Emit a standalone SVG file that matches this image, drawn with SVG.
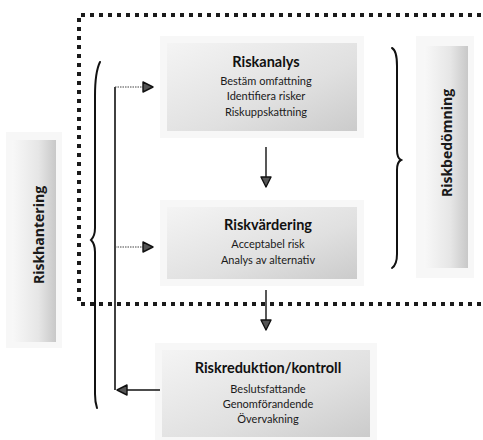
<svg xmlns="http://www.w3.org/2000/svg" width="483" height="440" viewBox="0 0 483 440">
  <defs>
    <linearGradient id="boxFill" x1="0" y1="0" x2="1" y2="1">
      <stop offset="0" stop-color="#f4f4f4"/>
      <stop offset="0.6" stop-color="#e0e0e0"/>
      <stop offset="1" stop-color="#cbcbcb"/>
    </linearGradient>
    <linearGradient id="sideFill" x1="0" y1="0" x2="1" y2="0">
      <stop offset="0" stop-color="#f8f8f8"/>
      <stop offset="0.6" stop-color="#e6e6e6"/>
      <stop offset="1" stop-color="#c8c8c8"/>
    </linearGradient>
    <marker id="tri" viewBox="0 0 12 12" refX="11" refY="6" markerWidth="12" markerHeight="12" markerUnits="userSpaceOnUse" orient="auto">
      <path d="M1,1 L11,6 L1,11 z" fill="#555" stroke="#111" stroke-width="1.4" stroke-linejoin="round"/>
    </marker>
    <style>
      .halo { fill: #f7f7f7; }
      .box { fill: url(#boxFill); }
      .side { fill: url(#sideFill); }
      .title { font-family: Lato, "Liberation Sans", sans-serif; font-weight: 700; font-size: 14.5px; fill: #111; text-anchor: middle; }
      .item { font-family: Lato, "Liberation Sans", sans-serif; font-size: 11px; fill: #1a1a1a; text-anchor: middle; }
      .vlabel { font-family: "Open Sans", "Liberation Sans", sans-serif; font-weight: 700; font-size: 14px; fill: #1a1a1a; text-anchor: middle; }
      .frame { fill: none; stroke: #1a1a1a; stroke-width: 4; stroke-dasharray: 4 5; }
      .brace { fill: none; stroke: #111; stroke-width: 2; stroke-linecap: round; }
      .trunk { fill: none; stroke: #111; stroke-width: 1.6; }
      .feed { fill: none; stroke: #444; stroke-width: 1; stroke-dasharray: 1.5 1; }
      .flow { fill: none; stroke: #111; stroke-width: 1.4; }
    </style>
  </defs>

  <rect width="483" height="440" fill="#ffffff"/>

  <!-- dotted frame around the assessment part -->
  <path class="frame" d="M490,15 H79 V304 H490"/>

  <!-- side labels -->
  <g id="riskhantering">
    <rect class="halo" x="6" y="132" width="56" height="216"/>
    <rect class="side" x="12" y="140" width="44" height="202"/>
    <text class="vlabel" transform="translate(44,235) rotate(-90)">Riskhantering</text>
  </g>
  <g id="riskbedomning">
    <rect class="halo" x="416" y="36" width="58" height="242"/>
    <rect class="side" x="424" y="46" width="44" height="222"/>
    <text class="vlabel" transform="translate(452,143) rotate(-90)">Riskbedömning</text>
  </g>

  <!-- braces -->
  <path class="brace" d="M392,48 C396,50 397,56 397,66 L397,150 C397,156 399,159 401,160 C399,161 397,164 397,170 L397,254 C397,262 395,266 392,268"/>
  <path class="brace" d="M100,62 C96,70 95,80 95,96 L95,228 C95,234 93,238 91,240 C93,242 95,246 95,252 L95,394 C95,400 96,405 97,408"/>

  <!-- process boxes -->
  <g id="riskanalys">
    <rect class="halo" x="160" y="36" width="204" height="102"/>
    <rect class="box" x="167" y="43" width="190" height="88"/>
    <text class="title" x="266" y="67">Riskanalys</text>
    <text class="item" x="266" y="85">Bestäm omfattning</text>
    <text class="item" x="266" y="100">Identifiera risker</text>
    <text class="item" x="266" y="116">Riskuppskattning</text>
  </g>
  <g id="riskvardering">
    <rect class="halo" x="160" y="200" width="204" height="86"/>
    <rect class="box" x="167" y="207" width="190" height="72"/>
    <text class="title" x="268" y="230">Riskvärdering</text>
    <text class="item" x="268" y="248">Acceptabel risk</text>
    <text class="item" x="268" y="264">Analys av alternativ</text>
  </g>
  <g id="riskreduktion">
    <rect class="halo" x="155" y="343" width="222" height="97"/>
    <rect class="box" x="162" y="350" width="208" height="87"/>
    <text class="title" x="268" y="373">Riskreduktion/kontroll</text>
    <text class="item" x="268" y="393">Beslutsfattande</text>
    <text class="item" x="268" y="408">Genomförandende</text>
    <text class="item" x="268" y="423">Övervakning</text>
  </g>

  <!-- connectors -->
  <g id="connectors">
    <path class="trunk" d="M115,87 V390"/>
    <path class="feed" d="M115,87 H153" marker-end="url(#tri)"/>
    <path class="feed" d="M115,247 H153" marker-end="url(#tri)"/>
    <path class="trunk" d="M160,390 H117" marker-end="url(#tri)"/>
    <path class="flow" d="M266,147 V187" marker-end="url(#tri)"/>
    <path class="flow" d="M266,290 V330" marker-end="url(#tri)"/>
  </g>
</svg>
